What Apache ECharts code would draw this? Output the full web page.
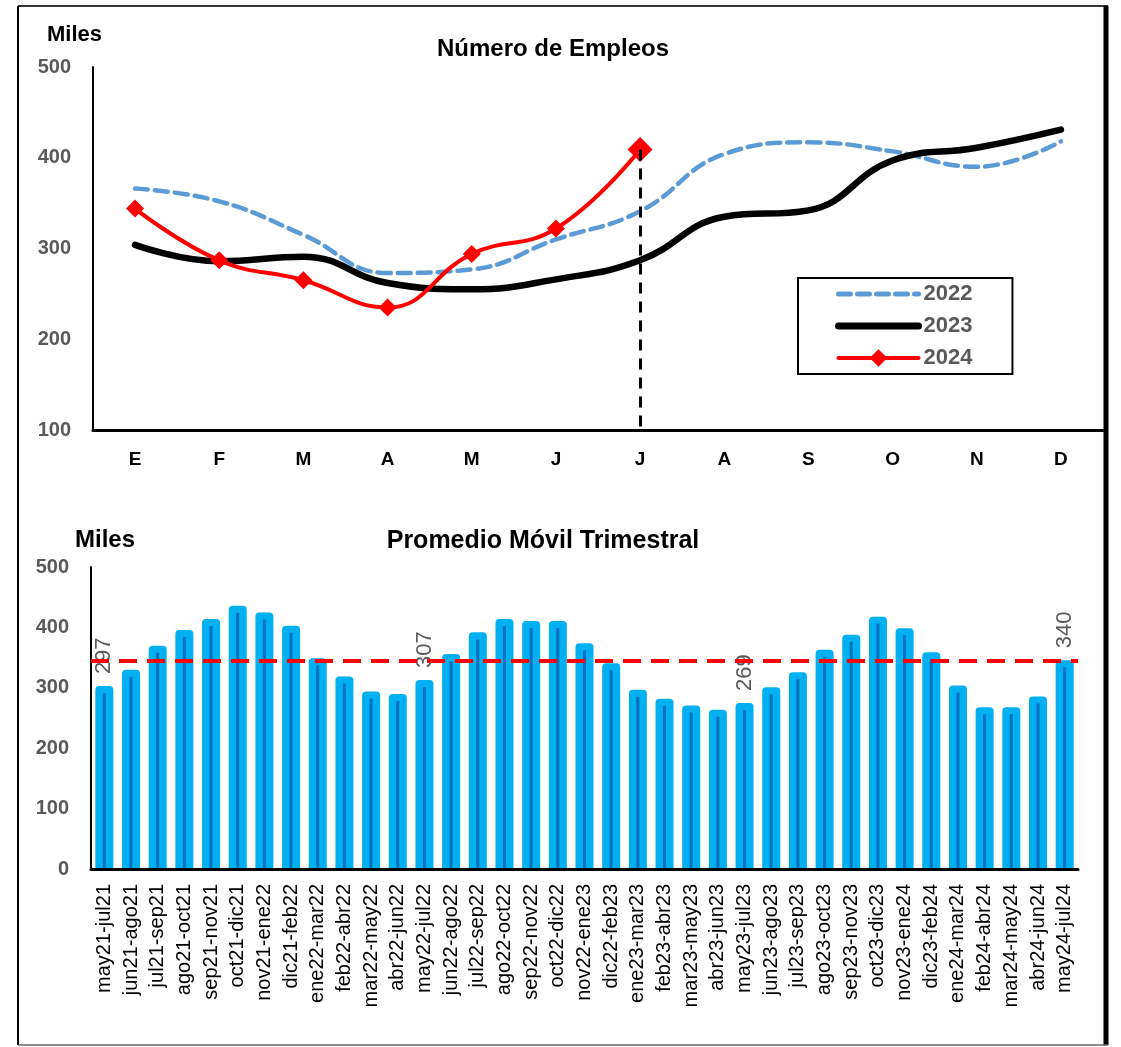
<!DOCTYPE html>
<html><head><meta charset="utf-8">
<script src="https://cdn.jsdelivr.net/npm/echarts@6/dist/echarts.min.js"></script>
<style>html,body{margin:0;padding:0;background:#fff}#c{width:1121px;height:1047px}</style>
</head><body><div id="c"></div>
<script>
// ---- Data: top chart (Número de Empleos, miles) ----
const months = ['E','F','M','A','M','J','J','A','S','O','N','D'];
const y2022 = [366, 352, 315, 273, 277, 310, 341, 404, 417, 407, 390, 418];
const y2023 = [304, 286, 291, 262, 255, 266, 287, 335, 342, 397, 411, 431];
const y2024 = [344, 287, 265, 235, 294, 322, 409];
const seriesNames = ['2022', '2023', '2024'];
const cutMonthIdx = 6;

// ---- Data: bottom chart (Promedio Móvil Trimestral, miles) ----
const periods = ['may21-jul21','jun21-ago21','jul21-sep21','ago21-oct21','sep21-nov21','oct21-dic21','nov21-ene22','dic21-feb22','ene22-mar22','feb22-abr22','mar22-may22','abr22-jun22','may22-jul22','jun22-ago22','jul22-sep22','ago22-oct22','sep22-nov22','oct22-dic22','nov22-ene23','dic22-feb23','ene23-mar23','feb23-abr23','mar23-may23','abr23-jun23','may23-jul23','jun23-ago23','jul23-sep23','ago23-oct23','sep23-nov23','oct23-dic23','nov23-ene24','dic23-feb24','ene24-mar24','feb24-abr24','mar24-may24','abr24-jun24','may24-jul24'];
const movAvg = [297,324,364,390,408,430,419,397,343,313,288,284,307,350,386,408,405,405,368,335,291,276,265,258,269,295,320,357,382,412,393,353,298,262,262,280,340];
const labeledIdx = [0, 12, 24, 36];
const refLevel = 345;

const FONT = 'Liberation Sans';
const chart = echarts.init(document.getElementById('c'), null, {renderer: 'canvas'});

function renderBar(params, api) {
  const idx = api.value(0), v = api.value(1);
  const top = api.coord([idx, v]);
  const base = api.coord([idx, 0]);
  const outerW = 18, innerW = 3, half = 3.5;
  const children = [
    {type: 'rect', shape: {x: top[0] - outerW / 2, y: top[1] - half, width: outerW, height: base[1] - top[1] + half, r: [4, 4, 0, 0]},
     style: {fill: '#00B0F0'}},
    {type: 'rect', shape: {x: top[0] - innerW / 2, y: top[1] + half, width: innerW, height: base[1] - top[1] - half},
     style: {fill: '#0070C0'}}
  ];
  if (labeledIdx.includes(idx)) {
    children.push({type: 'text', x: top[0], y: top[1] - half - 12, rotation: Math.PI / 2,
      style: {text: String(v), fontSize: 22, fill: '#595959', fontFamily: FONT, align: 'left', verticalAlign: 'middle'}});
  }
  return {type: 'group', children};
}

const option = {
  animation: false,
  backgroundColor: '#fff',
  textStyle: {fontFamily: FONT},
  title: [
    {text: 'Número de Empleos', left: 548, top: 32, textAlign: 'center',
     textStyle: {fontSize: 24, fontWeight: 'bold', color: '#000', fontFamily: FONT}},
    {text: 'Miles', left: 42, top: 19,
     textStyle: {fontSize: 22, fontWeight: 'bold', color: '#000', fontFamily: FONT}},
    {text: 'Promedio Móvil Trimestral', left: 538, top: 524, textAlign: 'center',
     textStyle: {fontSize: 25, fontWeight: 'bold', color: '#000', fontFamily: FONT}},
    {text: 'Miles', left: 70, top: 523,
     textStyle: {fontSize: 24, fontWeight: 'bold', color: '#000', fontFamily: FONT}}
  ],
  legend: {
    data: [
      {name: seriesNames[0], itemStyle: {opacity: 0}, lineStyle: {width: 5, type: [12, 7], cap: 'round', color: '#5B9BD5'}},
      {name: seriesNames[1], itemStyle: {opacity: 0}, lineStyle: {width: 7, cap: 'round', color: '#000'}},
      {name: seriesNames[2], lineStyle: {width: 4, cap: 'round', color: '#FF0000'}}
    ],
    orient: 'vertical',
    left: 798, top: 278,
    padding: [5, 40, 5, 37],
    itemWidth: 80, itemHeight: 22, itemGap: 10, itemTextGap: 8,
    borderColor: '#000', borderWidth: 2,
    textStyle: {fontSize: 22, fontWeight: 'bold', color: '#595959', fontFamily: FONT, lineHeight: 22}
  },
  grid: [
    {left: 93, top: 67, width: 1010, height: 363},
    {left: 91, top: 567, width: 987, height: 302}
  ],
  xAxis: [
    {type: 'category', gridIndex: 0, data: months, boundaryGap: true,
     axisLine: {lineStyle: {color: '#000', width: 3}}, axisTick: {show: false},
     axisLabel: {color: '#000', fontWeight: 'bold', fontSize: 19, margin: 20, fontFamily: FONT}},
    {type: 'category', gridIndex: 1, data: periods, boundaryGap: true,
     axisLine: {lineStyle: {color: '#000', width: 3}}, axisTick: {show: false}, z: 10,
     axisLabel: {color: '#000', fontSize: 20, rotate: 90, interval: 0, margin: 15, fontFamily: FONT}}
  ],
  yAxis: [
    {type: 'value', gridIndex: 0, min: 100, max: 500, interval: 100,
     axisLine: {show: true, lineStyle: {color: '#000', width: 2}}, axisTick: {show: false},
     splitLine: {show: false},
     axisLabel: {color: '#595959', fontWeight: 'bold', fontSize: 20, margin: 22, fontFamily: FONT}},
    {type: 'value', gridIndex: 1, min: 0, max: 500, interval: 100,
     axisLine: {show: true, lineStyle: {color: '#000', width: 2}}, axisTick: {show: false},
     splitLine: {show: false},
     axisLabel: {color: '#595959', fontWeight: 'bold', fontSize: 20, margin: 22, fontFamily: FONT}}
  ],
  series: [
    {name: seriesNames[0], type: 'line', xAxisIndex: 0, yAxisIndex: 0, data: y2022,
     smooth: 0.45, symbol: 'none', color: '#5B9BD5',
     lineStyle: {color: '#5B9BD5', width: 4.5, type: [13, 7], cap: 'round'}},
    {name: seriesNames[1], type: 'line', xAxisIndex: 0, yAxisIndex: 0, data: y2023,
     smooth: 0.45, symbol: 'none', color: '#000',
     lineStyle: {color: '#000', width: 6.5, cap: 'round'}},
    {name: seriesNames[2], type: 'line', xAxisIndex: 0, yAxisIndex: 0,
     data: y2024.map((v, i) => i === y2024.length - 1 ? {value: v, symbolSize: 25} : v),
     smooth: 0.45, symbol: 'diamond', symbolSize: 18, color: '#FF0000',
     itemStyle: {color: '#FF0000'},
     lineStyle: {color: '#FF0000', width: 4, cap: 'round'},
     z: 3,
     markLine: {
       silent: true, symbol: 'none', label: {show: false},
       lineStyle: {color: '#000', width: 3, type: [11, 8]},
       data: [[{coord: [cutMonthIdx, y2024[y2024.length - 1]]}, {coord: [cutMonthIdx, 100]}]]
     }},
    {name: 'Promedio', type: 'custom', xAxisIndex: 1, yAxisIndex: 1,
     data: movAvg.map((v, i) => [i, v]),
     encode: {x: 0, y: 1},
     renderItem: renderBar,
     clip: false,
     markLine: {
       silent: true, symbol: 'none', label: {show: false}, z: 5,
       lineStyle: {color: '#FF0000', width: 4, type: [18, 10]},
       data: [{yAxis: refLevel}]
     }}
  ],
  graphic: [
    {type: 'line', shape: {x1: 18, y1: 6, x2: 1108, y2: 6}, style: {stroke: '#333', lineWidth: 2}},
    {type: 'line', shape: {x1: 18, y1: 6, x2: 18, y2: 1045}, style: {stroke: '#000', lineWidth: 2}},
    {type: 'line', shape: {x1: 1106, y1: 6, x2: 1106, y2: 1045}, style: {stroke: '#000', lineWidth: 5}},
    {type: 'line', shape: {x1: 18, y1: 1045, x2: 1108, y2: 1045}, style: {stroke: '#666', lineWidth: 1.5}}
  ]
};
chart.setOption(option);
</script></body></html>
